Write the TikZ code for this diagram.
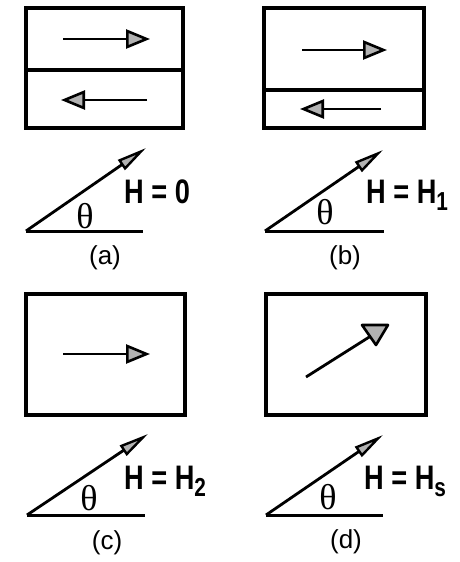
\documentclass[tikz,border=0pt]{standalone}
\usepackage{fontspec}
\setmainfont{Liberation Sans}
\newfontfamily\thetafont{Liberation Serif}
\newfontfamily\hfont[FakeStretch=0.8]{Liberation Sans}
\usetikzlibrary{arrows.meta}
\newcommand{\hsub}[1]{\raisebox{-7pt}{\fontsize{26}{26}\selectfont #1}}
\tikzset{
  frame/.style={line width=3.5pt},
  wall/.style={line width=4.5pt},
  mom/.style={line width=2.8pt,-{Triangle[length=24pt,width=19pt,fill=gray!60,line width=2.6pt]}},
  field/.style={line width=2.8pt,-{Triangle[length=30pt,width=12pt,fill=gray!60,line width=2.4pt]}},
  base/.style={line width=3pt},
  hlab/.style={font=\fontsize{34}{34}\hfont\bfseries, inner sep=0pt, anchor=base west},
  caplab/.style={font=\fontsize{26}{26}\selectfont, inner sep=0pt},
  th/.style={font=\fontsize{36}{36}\selectfont\thetafont, inner sep=0pt}
}
\begin{document}
\begin{tikzpicture}[x=1pt,y=-1pt]
\useasboundingbox (0,0) rectangle (459,562);
% ---------- (a)
\draw[frame] (26,8) rectangle (183,128);
\draw[wall] (26,70) -- (183,70);
\coordinate (a1s) at (63,39); \coordinate (a1e) at (150,39);
\coordinate (a2s) at (147,100); \coordinate (a2e) at (61,100);
\draw[mom] (a1s) -- (a1e);
\draw[mom] (a2s) -- (a2e);
\coordinate (ao) at (26,231); \coordinate (ah) at (143,231); \coordinate (at) at (146,148);
\draw[base] (ao) -- (ah);
\draw[field] (ao) -- (at);
\node[th] (ath) at (85,216) {θ};
\node[hlab] (aH) at (124,203) {H = 0};
\node[caplab] (acap) at (105,258) {(a)};
% ---------- (b)
\draw[frame] (264,8) rectangle (424,128);
\draw[wall] (264,90) -- (424,90);
\coordinate (b1s) at (302,50); \coordinate (b1e) at (387,50);
\coordinate (b2s) at (381,109); \coordinate (b2e) at (300,109);
\draw[mom] (b1s) -- (b1e);
\draw[mom] (b2s) -- (b2e);
\coordinate (bo) at (265,231); \coordinate (bh) at (384,231); \coordinate (bt) at (383,150);
\draw[base] (bo) -- (bh);
\draw[field] (bo) -- (bt);
\node[th] (bth) at (325,212) {θ};
\node[hlab] (bH) at (366,203) {H = H\hsub{1}};
\node[caplab] (bcap) at (345,258) {(b)};
% ---------- (c)
\draw[frame] (26,294) rectangle (185,415);
\coordinate (c1s) at (63,354); \coordinate (c1e) at (150,354);
\draw[mom] (c1s) -- (c1e);
\coordinate (co) at (27,515); \coordinate (ch) at (145,515); \coordinate (ct) at (148,434);
\draw[base] (co) -- (ch);
\draw[field] (co) -- (ct);
\node[th] (cth) at (89,498) {θ};
\node[hlab] (cH) at (124,489) {H = H\hsub{2}};
\node[caplab] (ccap) at (107,543) {(c)};
% ---------- (d)
\draw[frame] (266,294) rectangle (426,415);
\coordinate (d1s) at (306,377); \coordinate (d1e) at (374,334);
\draw[line width=2.8pt] (d1s) -- (d1e);
\filldraw[line width=2.6pt, fill=gray!60, line join=round] (362,325) -- (388,325) -- (376,345) -- cycle;
\coordinate (do) at (266,515); \coordinate (dh) at (383,515); \coordinate (dt) at (383,435);
\draw[base] (do) -- (dh);
\draw[field] (do) -- (dt);
\node[th] (dth) at (328,497) {θ};
\node[hlab] (dH) at (364,489) {H = H\hsub{s}};
\node[caplab] (dcap) at (346,542) {(d)};
\end{tikzpicture}
\end{document}
